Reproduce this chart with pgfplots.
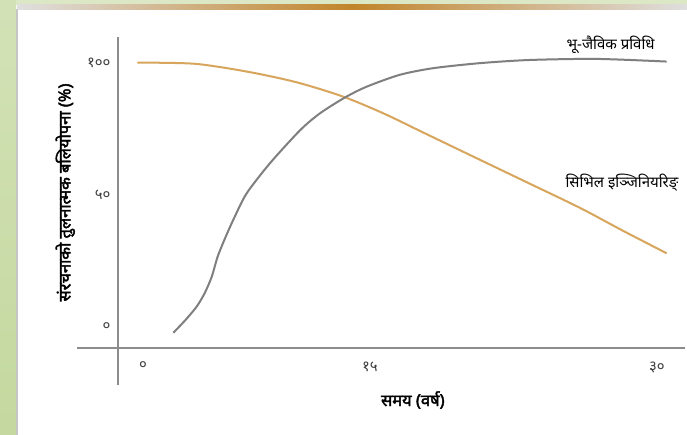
\documentclass[border=0pt]{standalone}
\usepackage{fontspec}
\setmainfont{Noto Sans}[Script=Devanagari]
\newfontfamily\lblfont{Noto Sans}[Script=Devanagari, FakeBold=2.5]
\newfontfamily\curvefont{Noto Sans}[Script=Devanagari]
\usepackage{pgfplots}
\pgfplotsset{compat=1.18}

\definecolor{civil}{HTML}{D8A55C}
\definecolor{bio}{HTML}{7F7F80}
\definecolor{axisgray}{HTML}{8C8C8C}
\definecolor{sidegreen}{HTML}{D3E2B6}
\definecolor{sidegreen2}{HTML}{C4D89F}
\definecolor{goldline}{HTML}{C1842A}

\begin{document}
\begin{tikzpicture}
  % slide background
  \fill[white] (0,0) rectangle (687pt,435pt);
  \shade[top color=sidegreen, bottom color=sidegreen2] (0,0) rectangle (16pt,435pt);
  \fill[gray!45] (16pt,0) rectangle (17.5pt,426pt);
  \fill[sidegreen!80!white] (16pt,430pt) rectangle (687pt,435pt);
  \shade[left color=gray!25, right color=gray!25, middle color=goldline] (17.5pt,425.5pt) rectangle (687pt,430pt);

  \begin{axis}[
    at={(118pt,87pt)}, anchor=south west,
    scale only axis,
    width=567pt, height=311pt,
    xmin=-1.46, xmax=31.64,
    ymin=-7.95, ymax=109.8,
    clip=false,
    axis line style={draw=none},
    tick style={draw=none},
    xtick={0,13.25,30},
    xticklabels={०,१५,३०},
    ytick={0,50,100},
    yticklabels={०,५०,१००},
    tick label style={font=\fontsize{15}{17}\selectfont, text=black!75},
    xticklabel style={yshift=-10pt},
    yticklabel style={xshift=-4pt},
    xlabel={समय (वर्ष)},
    ylabel={संरचनाको तुलनात्मक बलियोपना (\%)},
    label style={font=\lblfont\fontsize{16.5}{19}\selectfont},
    xlabel style={at={(axis description cs:0.52,-0.167)}, anchor=center},
    ylabel style={at={(axis description cs:-0.093,0.5)}, anchor=center, rotate=0},
  ]
    % axis cross lines
    \draw[axisgray, line width=1.4pt] (rel axis cs:-0.072,0) -- (rel axis cs:1,0);
    \draw[axisgray, line width=1.4pt] (rel axis cs:0,-0.119) -- (rel axis cs:0,1);

    % civil engineering
    \addplot[civil, line width=2pt, smooth, tension=0.5] coordinates {
      (-0.33,100.1) (1.5,100.0) (3.13,99.6) (5,97.9) (7.02,95.5)
      (9.17,92.3) (11.69,87.2) (14.03,80.9) (16.56,73.0) (19.67,63.3)
      (22.5,54.5) (25.51,45.1) (28.0,36.5) (30.57,27.9)
    };
    % bio-engineering
    \addplot[bio, line width=2pt, smooth, tension=0.45] coordinates {
      (1.77,-2.2) (2.5,2.8) (3.13,7.7) (3.6,12.8) (4.01,19.0)
      (4.35,26.5) (4.75,33.0) (5.3,41.0) (6.05,50.6) (7.41,62.0)
      (9.17,74.5) (10.33,80.9) (11.79,86.9) (13.06,91.0) (15.0,95.5)
      (16.95,98.0) (19.67,99.9) (22.59,101.1) (26.49,101.5) (30.57,100.5)
    };

    \node[font=\curvefont\fontsize{15}{17}\selectfont] at (axis cs:27.3,106.8) {भू-जैविक प्रविधि};
    \node[font=\curvefont\fontsize{15}{17}\selectfont] at (axis cs:27.96,54.5) {सिभिल इञ्जिनियरिङ्};
  \end{axis}
  \pgfresetboundingbox
  \path[use as bounding box] (0,0) rectangle (687pt,435pt);
\end{tikzpicture}
\end{document}
